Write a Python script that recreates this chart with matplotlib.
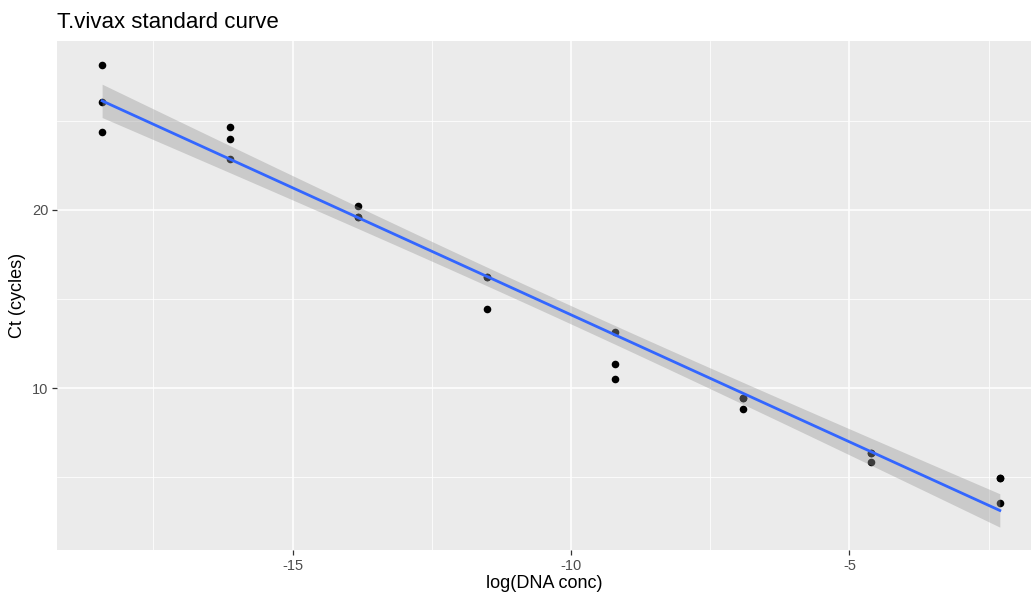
import numpy as np
import matplotlib

matplotlib.use("Agg")
import matplotlib.pyplot as plt
from matplotlib.ticker import FixedLocator

plt.rcParams["font.family"] = ["Liberation Sans", "DejaVu Sans"]

# log(DNA conc) and Ct values (3 replicates per dilution,
# some replicates sit on top of each other)
log_conc = [-18.42, -18.42, -18.42,
            -16.12, -16.12, -16.12,
            -13.82, -13.82, -13.82,
            -11.51, -11.51, -11.51,
            -9.21, -9.21, -9.21,
            -6.91, -6.91, -6.91,
            -4.61, -4.61, -4.61,
            -2.30, -2.30, -2.30]
ct = [28.15, 26.07, 24.40,
      24.66, 23.97, 22.87,
      20.21, 19.59, 19.59,
      16.25, 16.25, 14.42,
      13.16, 11.35, 10.49,
      9.46, 9.46, 8.82,
      6.37, 6.37, 5.82,
      4.93, 4.93, 3.52]

x_major = [-15, -10, -5]
x_minor = [-17.5, -12.5, -7.5, -2.5]
y_major = [10, 20]
y_minor = [5, 15, 25]

x = np.array(log_conc)
y = np.array(ct)

# linear fit with 95% confidence band, like geom_smooth(method = "lm")
n = len(x)
slope, intercept = np.polyfit(x, y, 1)
resid = y - (slope * x + intercept)
s = np.sqrt(np.sum(resid**2) / (n - 2))
xs = np.linspace(x.min(), x.max(), 80)
fit = slope * xs + intercept
se = s * np.sqrt(1 / n + (xs - x.mean()) ** 2 / np.sum((x - x.mean()) ** 2))
t_crit = 2.0739  # t(0.975, df=22)
lo, hi = fit - t_crit * se, fit + t_crit * se

fig = plt.figure(figsize=(10.31, 6.04), dpi=100)
ax = fig.add_axes([57 / 1031, 54 / 604, 974 / 1031, 509.3 / 604])
ax.set_facecolor("#EBEBEB")

ax.scatter(x, y, s=30, color="black", linewidths=0, zorder=2)
ax.fill_between(xs, lo, hi, color="#999999", alpha=0.4, linewidth=0, zorder=3)
ax.plot(xs, fit, color="#3366FF", linewidth=2.0, zorder=4)

ax.set_xlim(-19.23, -1.74)
ax.set_ylim(0.90, 29.51)
ax.xaxis.set_major_locator(FixedLocator(x_major))
ax.xaxis.set_minor_locator(FixedLocator(x_minor))
ax.yaxis.set_major_locator(FixedLocator(y_major))
ax.yaxis.set_minor_locator(FixedLocator(y_minor))
ax.set_xticklabels([str(v) for v in x_major])
ax.set_yticklabels([str(v) for v in y_major])

ax.grid(which="major", color="white", linewidth=1.1, zorder=0)
ax.grid(which="minor", color="white", linewidth=0.55, zorder=0)
ax.set_axisbelow(True)
for sp in ax.spines.values():
    sp.set_visible(False)

ax.tick_params(which="major", length=3.7, width=0.9, color="#333333",
               labelcolor="#4D4D4D", labelsize=10.5, pad=2.5)
ax.tick_params(which="minor", length=0)

ax.set_xlabel("log(DNA conc)", fontsize=13, color="black", labelpad=2)
ax.set_ylabel("Ct (cycles)", fontsize=13, color="black", labelpad=4)
ax.set_title("T.vivax standard curve", fontsize=16, loc="left", pad=9)

fig.savefig("out.png", dpi=100)
